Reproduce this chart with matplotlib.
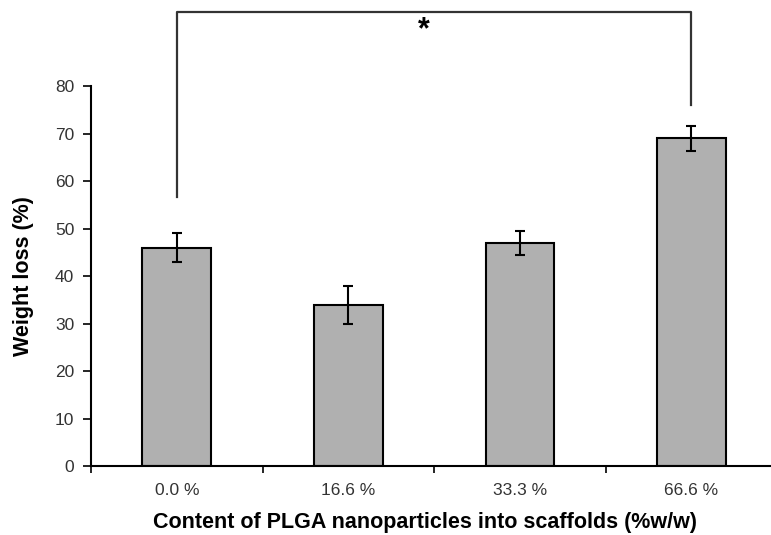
import numpy as np
import matplotlib.pyplot as plt

plt.rcParams['font.family'] = ['Liberation Sans', 'DejaVu Sans']

# data
categories = ['0.0 %', '16.6 %', '33.3 %', '66.6 %']
weight_loss = [46, 34, 47, 69]
errors = [3.0, 4.0, 2.5, 2.6]

# significance bracket between first and last group
sig_pair = (0, 3)
sig_top = 95.6
sig_left_end = 56.7
sig_right_end = 76.0
sig_label = '*'


def visualize():
    fig = plt.figure(figsize=(7.71, 5.35), dpi=100)
    ax = fig.add_axes([0.118, 0.129, 0.890, 0.710])

    x = np.arange(len(categories))
    ax.bar(x, weight_loss, width=0.40, color='#b0b0b0', edgecolor='black',
           linewidth=1.5, zorder=2)
    ax.errorbar(x, weight_loss, yerr=errors, fmt='none', ecolor='black',
                elinewidth=1.5, capsize=3.8, capthick=1.5, zorder=3)

    ax.set_xlim(-0.5, len(categories) - 0.5)
    ax.set_ylim(0, 80)
    ax.set_yticks(range(0, 81, 10))

    # category labels centred under bars, ticks between categories
    ax.set_xticks(x)
    ax.set_xticklabels(categories, fontsize=12.5, color='#333333')
    ax.tick_params(axis='x', which='major', length=0, pad=12)
    ax.set_xticks(np.arange(-0.5, len(categories), 1.0), minor=True)
    ax.tick_params(axis='x', which='minor', length=5, width=1.2, direction='out')
    ax.tick_params(axis='y', length=6, width=1.2, labelsize=12.5,
                   labelcolor='#333333', pad=6)

    for side in ['top', 'right']:
        ax.spines[side].set_visible(False)
    for side in ['left', 'bottom']:
        ax.spines[side].set_linewidth(1.5)

    ax.set_ylabel('Weight loss (%)', fontsize=15.5, fontweight='bold')
    ax.yaxis.set_label_coords(-0.083, 0.5)
    ax.set_xlabel('Content of PLGA nanoparticles into scaffolds (%w/w)',
                  fontsize=15.5, fontweight='bold')
    ax.xaxis.set_label_coords(0.487, -0.12)

    # bracket
    a, b = sig_pair
    ax.plot([a, a, b, b], [sig_left_end, sig_top, sig_top, sig_right_end],
            color='#333333', linewidth=1.6, clip_on=False)
    ax.text(1.44, 91.8, sig_label, fontsize=22, ha='center', va='center',
            fontweight='bold', clip_on=False)

    fig.savefig('out.png', dpi=100)


if __name__ == '__main__':
    visualize()
